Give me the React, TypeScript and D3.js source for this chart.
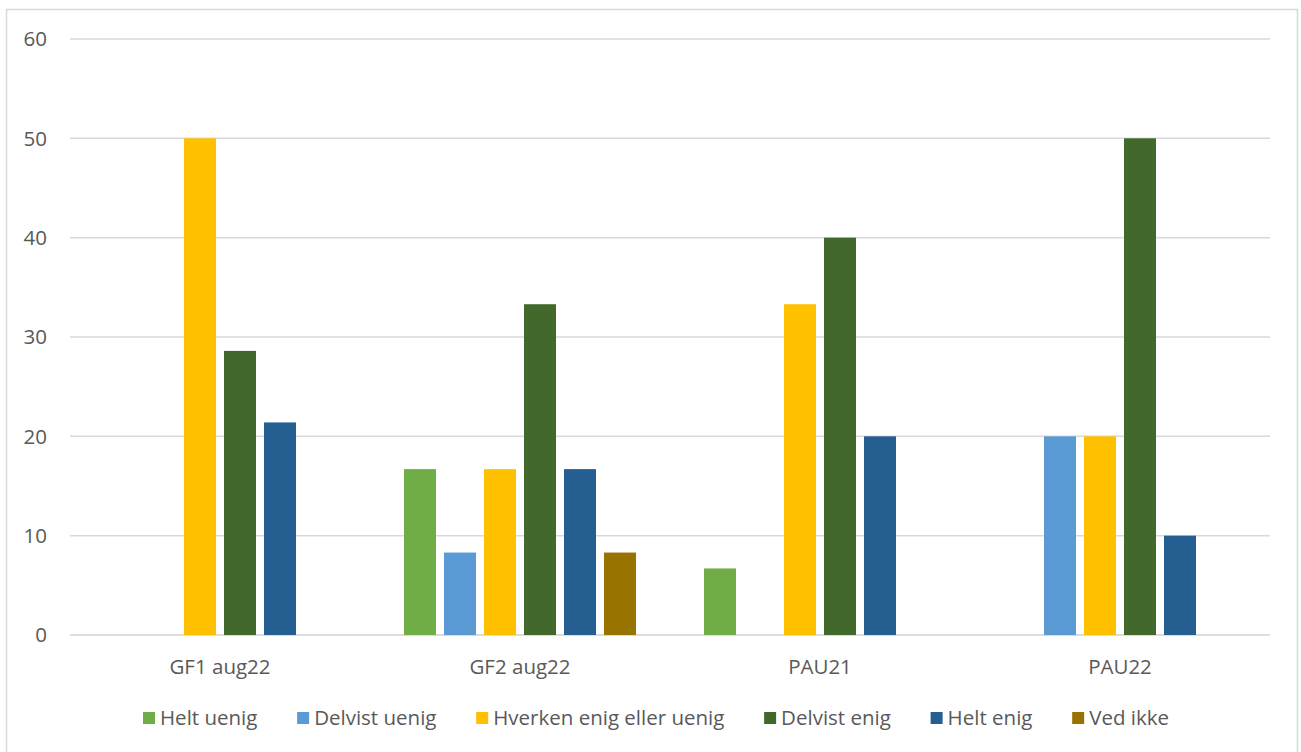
import React from "react";
import * as d3 from "d3";

const categories = ["GF1 aug22", "GF2 aug22", "PAU21", "PAU22"];
const seriesNames = ["Helt uenig", "Delvist uenig", "Hverken enig eller uenig", "Delvist enig", "Helt enig", "Ved ikke"];
const seriesColors = ["#70AD47", "#5B9BD5", "#FFC000", "#43682B", "#255E91", "#997300"];
const helt_uenig = [0, 16.7, 6.7, 0];
const delvist_uenig = [0, 8.3, 0, 20];
const hverken = [50, 16.7, 33.3, 20];
const delvist_enig = [28.6, 33.3, 40, 50];
const helt_enig = [21.4, 16.7, 20, 10];
const ved_ikke = [0, 8.3, 0, 0];
const seriesValues = [helt_uenig, delvist_uenig, hverken, delvist_enig, helt_enig, ved_ikke];
const yTicks = [0, 10, 20, 30, 40, 50, 60];

const W = 1301, H = 752;
const FONT = "'Open Sans', 'Liberation Sans', sans-serif";

function measure(text: string, size: number) {
  const c = document.createElement("canvas").getContext("2d");
  if (!c) return text.length * size * 0.5;
  c.font = `${size}px 'Open Sans'`;
  return c.measureText(text).width;
}

export default function App() {
  const left = 70, right = 1270, top = 39, bottom = 635;
  const x0 = d3.scaleBand<string>().domain(categories).range([left, right]).paddingInner(0).paddingOuter(0);
  const x1 = d3.scaleBand<string>().domain(seriesNames).range([30, 270]).paddingInner(0.2).paddingOuter(0.1);
  const y = d3.scaleLinear().domain([0, 60]).range([bottom, top]);

  const legendFont = 20.5;
  const sq = 12, sqGap = 5;
  const legStart = 143, legEnd = 1169;
  const widths = seriesNames.map((n) => sq + sqGap + measure(n, legendFont));
  const sum = widths.reduce((a, b) => a + b, 0);
  const itemGap = (legEnd - legStart - sum) / (seriesNames.length - 1);
  let lx = legStart;
  const legendXs = widths.map((w) => {
    const v = lx;
    lx += w + itemGap;
    return v;
  });

  return (
    <svg width={W} height={H} style={{ position: "absolute", left: 0, top: 0, background: "#fff" }} fontFamily={FONT}>
      <rect x={6.5} y={9.5} width={1291} height={750} fill="#fff" stroke="#D9D9D9" strokeWidth={1.5} />
      {yTicks.map((t) => (
        <g key={t}>
          <line x1={left} x2={right} y1={y(t)} y2={y(t)} stroke={t === 0 ? "#D0D0D0" : "#D9D9D9"} strokeWidth={1.5} />
          <text x={47} y={y(t)} dy="0.35em" textAnchor="end" fontSize={20.5} fill="#595959">{t}</text>
        </g>
      ))}
      {categories.map((c, ci) => (
        <g key={c} transform={`translate(${x0(c)},0)`}>
          {seriesNames.map((s, si) => {
            const v = seriesValues[si][ci];
            if (!v) return null;
            return (
              <rect key={s} x={x1(s)} width={x1.bandwidth()} y={y(v)} height={y(0) - y(v)} fill={seriesColors[si]} />
            );
          })}
          <text x={x0.bandwidth() / 2} y={667} dy="0.35em" textAnchor="middle" fontSize={20.5} fill="#595959">{c}</text>
        </g>
      ))}
      {seriesNames.map((s, i) => (
        <g key={s} transform={`translate(${legendXs[i]},718)`}>
          <rect x={0} y={-6} width={sq} height={sq} fill={seriesColors[i]} />
          <text x={sq + sqGap} y={0} dy="0.35em" fontSize={legendFont} fill="#595959">{s}</text>
        </g>
      ))}
    </svg>
  );
}
